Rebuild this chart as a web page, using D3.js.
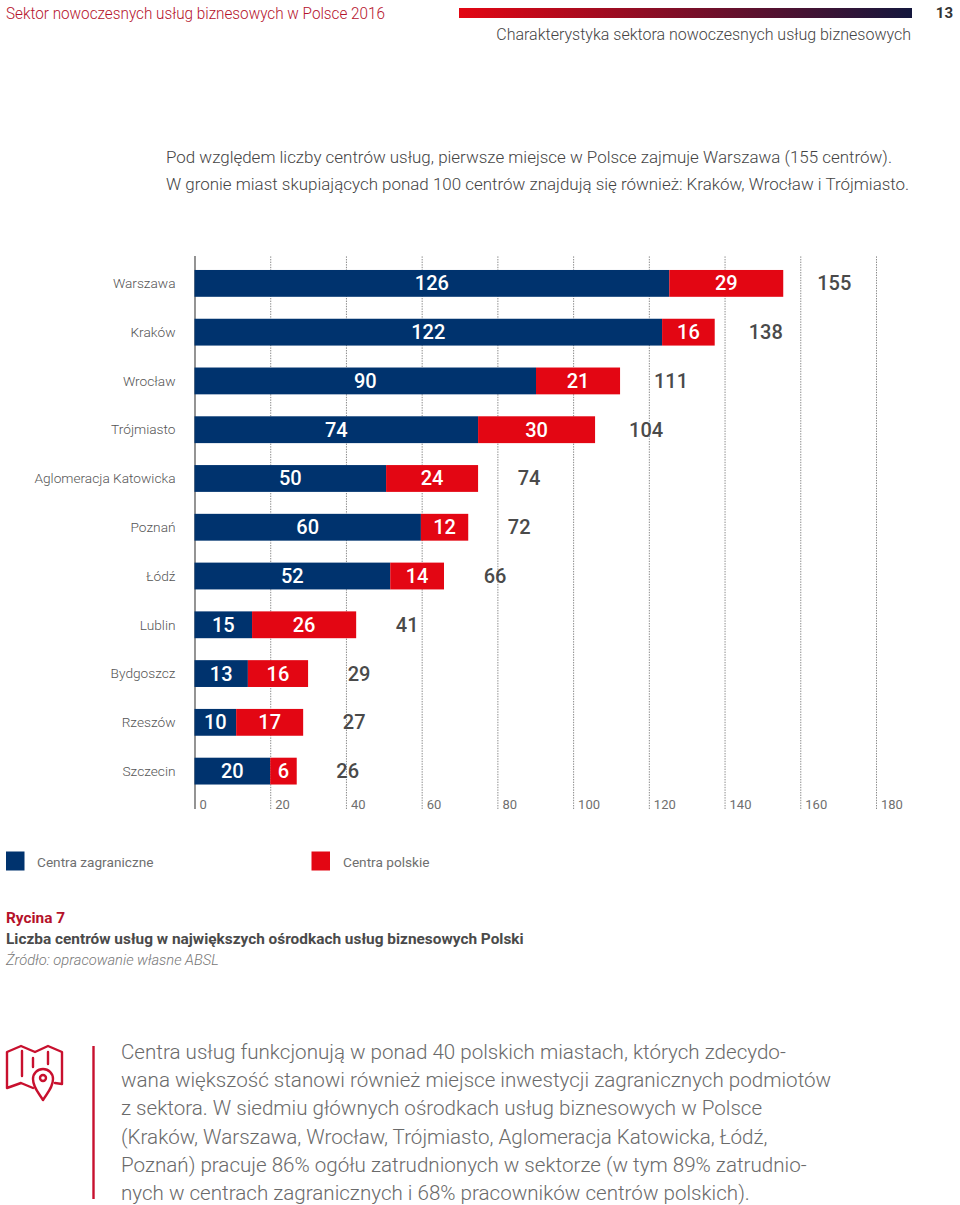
<!DOCTYPE html>
<html><head><meta charset="utf-8">
<script src="https://cdn.jsdelivr.net/npm/d3@7/dist/d3.min.js"></script>
<style>html,body{margin:0;padding:0;background:#fff}svg{display:block}text{font-family:Roboto,sans-serif}</style>
</head><body><svg id="c" width="960" height="1205"></svg>
<script>
const cities=["Warszawa","Kraków","Wrocław","Trójmiasto","Aglomeracja Katowicka","Poznań","Łódź","Lublin","Bydgoszcz","Rzeszów","Szczecin"];
// printed labels
const foreignCentres=[126,122,90,74,50,60,52,15,13,10,20];
const polishCentres=[29,16,21,30,24,12,14,26,16,17,6];
const totals=[155,138,111,104,74,72,66,41,29,27,26];
// bar lengths as read from the picture on the axis (the printed bars are not exactly proportional to their labels)
const foreignBars=[125.4,123.5,90.2,74.9,50.6,59.8,51.7,15.2,14.1,11,20];
const totalBars=[155.5,137.4,112.4,105.8,74.9,72.3,65.9,42.7,30,28.7,27];
const ticks=[0,20,40,60,80,100,120,140,160,180];
const seriesNames=["Centra zagraniczne","Centra polskie"];
const intro=["Pod względem liczby centrów usług, pierwsze miejsce w Polsce zajmuje Warszawa (155 centrów).","W gronie miast skupiających ponad 100 centrów znajdują się również: Kraków, Wrocław i Trójmiasto."];
const para=["Centra usług funkcjonują w ponad 40 polskich miastach, których zdecydo-","wana większość stanowi również miejsce inwestycji zagranicznych podmiotów","z sektora. W siedmiu głównych ośrodkach usług biznesowych w Polsce","(Kraków, Warszawa, Wrocław, Trójmiasto, Aglomeracja Katowicka, Łódź,","Poznań) pracuje 86% ogółu zatrudnionych w sektorze (w tym 89% zatrudnio-","nych w centrach zagranicznych i 68% pracowników centrów polskich)."];

const svg=d3.select("#c");
const NAVY="#00336e",RED="#e30613",DARK="#4a4a4a",GREY="#6f6f6f";
const txt=(x,y,s,o={})=>svg.append("text").attr("x",x).attr("y",y).text(s)
  .attr("font-size",o.size||16).attr("font-weight",o.w||400).attr("fill",o.fill||GREY)
  .attr("text-anchor",o.a||"start").attr("font-style",o.i||"normal");

// header
const defs=svg.append("defs");
const g=defs.append("linearGradient").attr("id","hg");
g.append("stop").attr("offset",0).attr("stop-color","#e30613");
g.append("stop").attr("offset",1).attr("stop-color","#14173d");
svg.append("rect").attr("x",459).attr("y",8).attr("width",453).attr("height",10).attr("fill","url(#hg)");
txt(6,19,"Sektor nowoczesnych usług biznesowych w Polsce 2016",{size:16,w:300,fill:"#b5122b"})
  .attr("textLength",379).attr("lengthAdjust","spacingAndGlyphs");
txt(953,18,"13",{size:15,w:700,fill:"#333",a:"end"});
txt(911,40,"Charakterystyka sektora nowoczesnych usług biznesowych",{size:16,w:300,fill:"#444",a:"end"});
intro.forEach((s,i)=>txt(166,163+i*27,s,{size:16.94,w:300,fill:"#444"}));

// chart
const x=d3.scaleLinear().domain([0,180]).range([194.5,876]);
const y=d3.scaleBand().domain(cities).range([259,795.5]).paddingInner(0.45).paddingOuter(0.225);
const axisG=svg.append("g").attr("transform","translate(0,809)");
axisG.call(d3.axisBottom(x).tickValues(ticks).tickSize(-553).tickFormat(d3.format("d")));
axisG.select(".domain").remove();
axisG.selectAll(".tick line").attr("stroke","#8a8a8a").attr("stroke-width",1).attr("stroke-dasharray","1.4 1.2")
  .filter(d=>d===0).attr("stroke","#666").attr("stroke-width",1.4).attr("stroke-dasharray",null);
axisG.selectAll(".tick text").attr("font-family","Roboto,sans-serif").attr("font-size",13).attr("fill",GREY)
  .attr("font-weight",400).attr("text-anchor","start").attr("x",4.5).attr("y",-4).attr("dy","0.32em");

const rows=svg.selectAll("g.row").data(cities).join("g").attr("class","row");
const rowY=d=>y(d);
rows.append("rect").attr("x",x(0)).attr("y",rowY).attr("height",y.bandwidth())
  .attr("width",(d,i)=>x(foreignBars[i])-x(0)).attr("fill",NAVY);
rows.append("rect").attr("x",(d,i)=>x(foreignBars[i])).attr("y",rowY).attr("height",y.bandwidth())
  .attr("width",(d,i)=>x(totalBars[i])-x(foreignBars[i])).attr("fill",RED);
const cy=d=>y(d)+y.bandwidth()/2;
const rowText=(cls)=>rows.append("text").attr("class",cls).attr("y",cy).attr("dy","0.35em");
rowText("city").attr("x",175.5).attr("text-anchor","end").attr("font-size",13.7).attr("font-weight",300).attr("fill","#555").text(d=>d);
rowText("a").attr("x",(d,i)=>(x(0)+x(foreignBars[i]))/2).attr("text-anchor","middle").attr("font-size",20).attr("font-weight",500).attr("fill","#fff").text((d,i)=>foreignCentres[i]);
rowText("b").attr("x",(d,i)=>(x(foreignBars[i])+x(totalBars[i]))/2).attr("text-anchor","middle").attr("font-size",20).attr("font-weight",500).attr("fill","#fff").text((d,i)=>polishCentres[i]);
rowText("t").attr("x",(d,i)=>x(totalBars[i])+51).attr("text-anchor","middle").attr("font-size",20).attr("font-weight",500).attr("fill",DARK).text((d,i)=>totals[i]);

// legend
[[6,NAVY,37],[311.5,RED,343]].forEach((l,i)=>{
  svg.append("rect").attr("x",l[0]).attr("y",851.5).attr("width",18.5).attr("height",19).attr("fill",l[1]);
  txt(l[2],867,seriesNames[i],{size:13.65,fill:GREY});
});

// caption
txt(6,923,"Rycina 7",{size:15.4,w:700,fill:"#b5122b"});
txt(6,944,"Liczba centrów usług w największych ośrodkach usług biznesowych Polski",{size:15.4,w:700,fill:DARK});
txt(6,965,"Źródło: opracowanie własne ABSL",{size:14.7,w:300,i:"italic",fill:"#777"});

// icon
const ic=svg.append("g").attr("fill","none").attr("stroke","#c8102e").attr("stroke-width",2.4).attr("stroke-linejoin","round").attr("stroke-linecap","round");
ic.append("path").attr("d","M33 1088 L21 1083 L7 1088 V1052 L21 1046 L35 1052 L48 1046 L62 1052 V1084 L55 1083");
ic.append("path").attr("d","M22 1051 V1076 M33 1058 V1067 M48 1052 V1064");
ic.append("path").attr("d","M43 1100 C38 1092 33 1087 33 1079 A10 10 0 0 1 53 1079 C53 1087 48 1092 43 1100 Z");
ic.append("circle").attr("cx",43).attr("cy",1078).attr("r",3);
svg.append("line").attr("x1",93.5).attr("x2",93.5).attr("y1",1046).attr("y2",1199).attr("stroke","#c8102e").attr("stroke-width",2.4);
para.forEach((s,i)=>txt(121,1059+i*28.2,s,{size:20.6,w:300,fill:"#6a6a6a"}));
</script></body></html>
